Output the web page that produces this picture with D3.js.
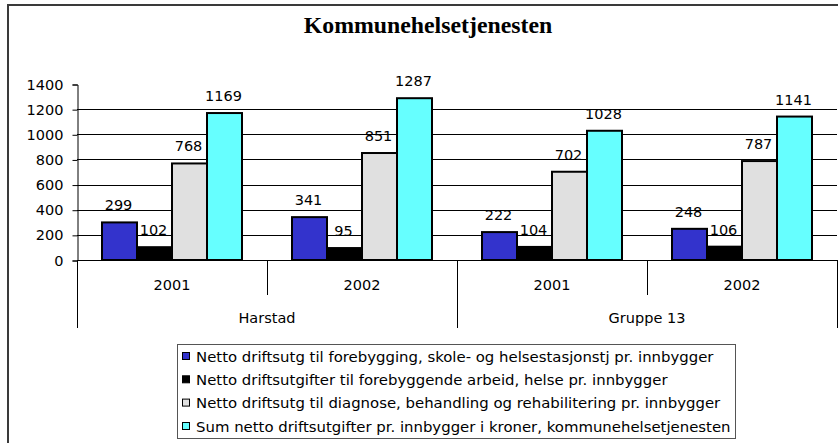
<!DOCTYPE html>
<html>
<head>
<meta charset="utf-8">
<script src="https://cdn.jsdelivr.net/npm/d3@7"></script>
<style>
  html, body { margin: 0; padding: 0; background: #fff; }
  svg { display: block; }
  text { font-family: "DejaVu Sans", Verdana, sans-serif; fill: #000; }
</style>
</head>
<body>
<svg id="chart" width="838" height="443"></svg>
<script>
// Municipal health services, net operating expenses per inhabitant (NOK)
const regions = ["Harstad", "Gruppe 13"];
const years = ["2001", "2002"];
const seriesNames = [
  "Netto driftsutg til forebygging, skole- og helsestasjonstj pr. innbygger",
  "Netto driftsutgifter til forebyggende arbeid, helse pr. innbygger",
  "Netto driftsutg til diagnose, behandling og rehabilitering pr. innbygger",
  "Sum netto driftsutgifter pr. innbygger i kroner, kommunehelsetjenesten"
];
const seriesColors = ["#3333cc", "#000000", "#e0e0e0", "#66ffff"];
// values per series, ordered Harstad 2001, Harstad 2002, Gruppe 13 2001, Gruppe 13 2002
const forebyggingSkole = [299, 341, 222, 248];
const forebyggendeArbeid = [102, 95, 104, 106];
const diagnoseBehandling = [768, 851, 702, 787];
const sumKommunehelse = [1169, 1287, 1028, 1141];
const yTicks = [0, 200, 400, 600, 800, 1000, 1200, 1400];

const seriesValues = [forebyggingSkole, forebyggendeArbeid, diagnoseBehandling, sumKommunehelse];
const cells = [];
regions.forEach(r => years.forEach(y => cells.push({ region: r, year: y, key: r + "|" + y })));

const svg = d3.select("#chart");

// outer frame (extends past the right and bottom edges)
svg.append("rect")
  .attr("x", 8).attr("y", 5).attr("width", 860).attr("height", 460)
  .attr("fill", "none").attr("stroke", "#3a3a3a").attr("stroke-width", 2);

// title
svg.append("text")
  .attr("x", 428).attr("y", 33)
  .attr("text-anchor", "middle")
  .style("font-family", "'Liberation Serif', 'Times New Roman', serif")
  .style("font-weight", "bold")
  .style("font-size", "23.8px")
  .text("Kommunehelsetjenesten");

const plotLeft = 77, plotRight = 837, plotTop = 84, plotBottom = 260;

const x = d3.scaleBand().domain(cells.map(c => c.key)).range([plotLeft, plotRight]).padding(0);
const xInner = d3.scaleBand().domain(d3.range(seriesNames.length)).range([25, x.bandwidth() - 25]).padding(0);
const y = d3.scaleLinear().domain([0, 1400]).range([plotBottom, plotTop]);

// horizontal gridlines
svg.append("g")
  .selectAll("line")
  .data(yTicks.filter(t => t > 0 && t < 1400))
  .join("line")
  .attr("x1", plotLeft).attr("x2", plotRight)
  .attr("y1", d => Math.round(y(d)) + 0.5).attr("y2", d => Math.round(y(d)) + 0.5)
  .attr("stroke", "#000").attr("stroke-width", 1);

// y axis
const yAxis = d3.axisLeft(y).tickValues(yTicks).tickSize(5).tickPadding(9).tickFormat(d3.format("d"));
const gy = svg.append("g").attr("transform", `translate(${plotLeft + 0.5},0.5)`).call(yAxis);
gy.select(".domain").attr("stroke", "#000");
gy.selectAll(".tick line").attr("stroke", "#000");
gy.selectAll(".tick text")
  .style("font-family", "'DejaVu Sans', Verdana, sans-serif")
  .style("font-size", "14.5px")
  .attr("fill", "#000");

// bars
const groups = svg.append("g").selectAll("g")
  .data(cells)
  .join("g")
  .attr("transform", d => `translate(${x(d.key)},0)`);

seriesValues.forEach((vals, si) => {
  groups.append("rect")
    .attr("x", () => xInner(si))
    .attr("y", (d, i) => y(vals[i]))
    .attr("width", xInner.bandwidth())
    .attr("height", (d, i) => y(0) - y(vals[i]))
    .attr("fill", seriesColors[si])
    .attr("stroke", "#000")
    .attr("stroke-width", 2);
});

// value labels
seriesValues.forEach((vals, si) => {
  groups.append("text")
    .attr("x", () => xInner(si) + xInner.bandwidth() / 2 - 1)
    .attr("y", (d, i) => y(vals[i]) - 12)
    .attr("text-anchor", "middle")
    .style("font-size", "14.5px")
    .text((d, i) => vals[i]);
});

// x baseline
svg.append("line")
  .attr("x1", plotLeft).attr("x2", plotRight)
  .attr("y1", plotBottom + 0.5).attr("y2", plotBottom + 0.5)
  .attr("stroke", "#000");

// category axis: year labels
svg.append("g").selectAll("text")
  .data(cells)
  .join("text")
  .attr("x", d => x(d.key) + x.bandwidth() / 2)
  .attr("y", 290)
  .attr("text-anchor", "middle")
  .style("font-size", "14.5px")
  .text(d => d.year);

const regionScale = d3.scaleBand().domain(regions).range([plotLeft, plotRight]).padding(0);

svg.append("g").selectAll("text")
  .data(regions)
  .join("text")
  .attr("x", d => regionScale(d) + regionScale.bandwidth() / 2)
  .attr("y", 323)
  .attr("text-anchor", "middle")
  .style("font-size", "14.5px")
  .text(d => d);

// short dividers between years within a region
svg.append("g").selectAll("line")
  .data(cells.filter(c => c.year !== years[0]))
  .join("line")
  .attr("x1", d => Math.round(x(d.key)) + 0.5).attr("x2", d => Math.round(x(d.key)) + 0.5)
  .attr("y1", plotBottom).attr("y2", 295)
  .attr("stroke", "#000");

// long dividers around regions
const regionEdges = regions.map(r => regionScale(r)).concat([plotRight]);
svg.append("g").selectAll("line")
  .data(regionEdges)
  .join("line")
  .attr("x1", d => Math.round(d) + 0.5).attr("x2", d => Math.round(d) + 0.5)
  .attr("y1", plotBottom).attr("y2", 328)
  .attr("stroke", "#000");

// legend
const lg = svg.append("g");
lg.append("rect")
  .attr("x", 177.5).attr("y", 344.5).attr("width", 558).attr("height", 94)
  .attr("fill", "#fff").attr("stroke", "#555").attr("stroke-width", 1);

const rowY = [356, 379.3, 402.6, 426];
seriesNames.forEach((name, i) => {
  lg.append("rect")
    .attr("x", 182.5).attr("y", rowY[i] - 3.5).attr("width", 7).attr("height", 7)
    .attr("fill", seriesColors[i]).attr("stroke", "#000").attr("stroke-width", 1);
  lg.append("text")
    .attr("x", 196).attr("y", rowY[i] + 5.5)
    .style("font-size", "14.9px")
    .text(name);
});
</script>
</body>
</html>
